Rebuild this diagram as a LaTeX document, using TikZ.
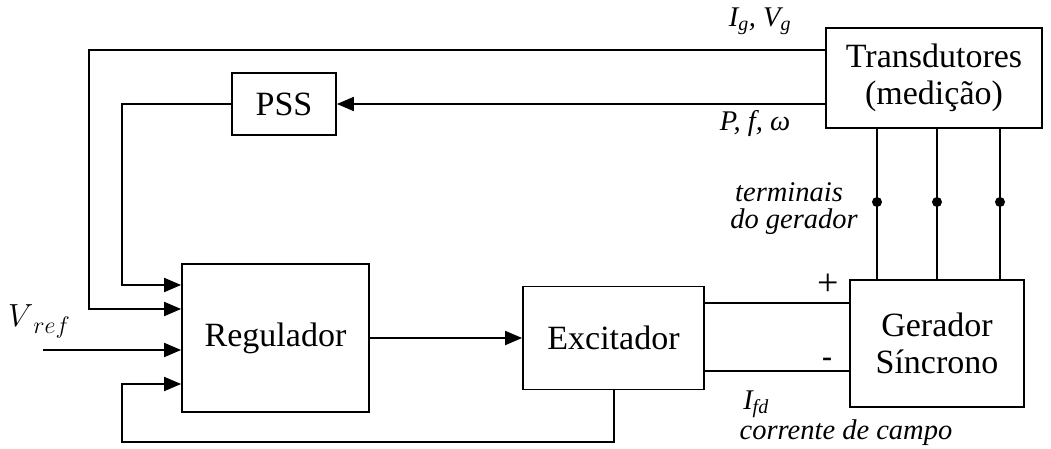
\RequirePackage{fix-cm}
\documentclass[tikz,border=0pt]{standalone}
\usepackage{fontspec}
\setmainfont{Liberation Serif}
\usetikzlibrary{arrows.meta}
\tikzset{
  blk/.style={draw,line width=1.8pt,minimum width=#1,inner sep=0pt,align=center,font=\fontsize{34}{37}\selectfont},
  arr/.style={-{Triangle[length=17pt,width=14pt]}},
  lbl/.style={font=\fontsize{28.5}{31}\selectfont\itshape,inner sep=0pt,align=center}
}
\begin{document}
\begin{tikzpicture}[x=1pt,y=-1pt,line width=2pt]
			\useasboundingbox (0,0) rectangle (1051,449);
			\node[blk=104pt,minimum height=62pt] (pss) at (284,104) {PSS};
			\node[blk=216pt,minimum height=100pt] (trans) at (934,78) {Transdutores\\(medição)};
			\node[blk=187pt,minimum height=148pt] (reg) at (275.5,338) {Regulador};
			\node[blk=181pt,minimum height=103pt] (exc) at (613.5,338) {Excitador};
			\node[blk=174pt,minimum height=127pt] (ger) at (937,343.5) {Gerador\\Síncrono};
			\coordinate (G) at (89,50);
			\coordinate (S) at (122,104);
			\coordinate (F) at (122,442);
			\coordinate (R) at (43,350);
			% sinais medidos
			\draw [arr] (trans.west |- G) to (G) |- (reg.west |- 0,309);
			\draw [arr] (trans.west |- pss.east) to (pss.east);
			\draw [arr] (pss.west) to (S) |- (reg.west |- 0,285);
			\draw [arr] (R) to (reg.west |- R);
			\draw [arr] (reg.east) to (exc.west);
			\draw [arr] (exc.south) |- (F) |- (reg.west |- 0,384);
			% campo
			\draw (exc.east |- 0,303) to (ger.west |- 0,303);
			\draw (exc.east |- 0,371) to (ger.west |- 0,371);
			\foreach \x in {877,937,1000} {
				\draw (trans.south -| \x,0) to (ger.north -| \x,0);
				\fill (\x,202) circle (5pt);
			}
			\node[lbl] at (760,21) {I\textsubscript{g}, V\textsubscript{g}};
			\node[lbl] at (755,124) {P, f, ω};
			\node[lbl] at (39,321) {\fontsize{32}{36}\selectfont$V$\raisebox{-7pt}{\fontsize{24}{26}\selectfont$ref$}};
			\node[lbl] at (789,192) {terminais};
			\node[lbl] at (794,222) {do gerador};
			\node[lbl,font=\fontsize{38}{40}\selectfont] at (828,285) {+};
			\node[lbl,font=\fontsize{30}{32}\selectfont\bfseries] at (827,362) {-};
			\node[lbl] at (756,404) {I\textsubscript{fd}};
			\node[lbl] at (846,433) {corrente de campo};
\end{tikzpicture}
\end{document}
